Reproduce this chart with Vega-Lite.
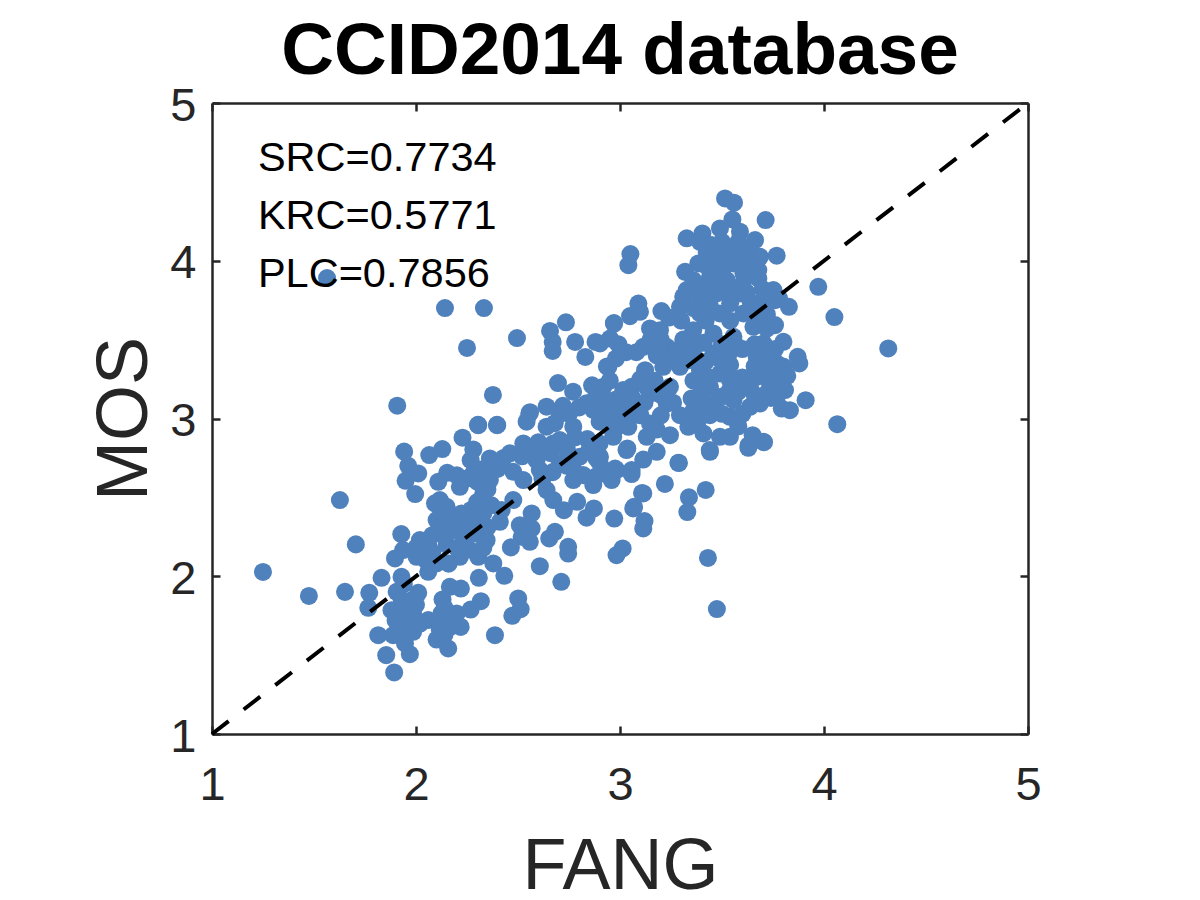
{
  "$schema": "https://vega.github.io/schema/vega-lite/v6.json",
  "width": 816,
  "height": 631,
  "autosize": {"type": "none"},
  "padding": {"left": 212, "top": 103, "right": 172, "bottom": 166},
  "background": "#ffffff",
  "title": {
    "text": "CCID2014 database",
    "font": "Liberation Sans",
    "fontSize": 73,
    "fontWeight": "bold",
    "color": "#000000",
    "anchor": "middle",
    "offset": -7
  },
  "config": {"view": {"stroke": null}},
  "datasets": {
    "scores": [
      {"fang":1.908,"mos":3.081},{"fang":2.305,"mos":2.958},{"fang":2.398,"mos":2.958},{"fang":2.228,"mos":2.878},{"fang":2.555,"mos":3.03},{"fang":2.542,"mos":2.98},
      {"fang":1.942,"mos":2.79},{"fang":2.065,"mos":2.768},{"fang":2.129,"mos":2.806},{"fang":2.281,"mos":2.804},{"fang":2.268,"mos":2.736},{"fang":1.962,"mos":2.7},
      {"fang":2.011,"mos":2.652},{"fang":1.949,"mos":2.605},{"fang":1.996,"mos":2.521},{"fang":2.153,"mos":2.656},{"fang":2.109,"mos":2.599},{"fang":2.215,"mos":2.567},
      {"fang":2.281,"mos":2.652},{"fang":2.362,"mos":2.747},{"fang":2.46,"mos":2.779},{"fang":2.526,"mos":2.842},{"fang":2.591,"mos":2.8},{"fang":2.477,"mos":2.662},
      {"fang":2.362,"mos":2.61},{"fang":2.33,"mos":2.525},{"fang":2.477,"mos":2.483},{"fang":2.567,"mos":2.398},{"fang":2.411,"mos":2.345},{"fang":2.509,"mos":2.324},
      {"fang":2.567,"mos":2.303},{"fang":2.518,"mos":2.25},{"fang":2.558,"mos":2.218},{"fang":2.465,"mos":2.183},{"fang":2.681,"mos":2.282},{"fang":2.653,"mos":2.24},
      {"fang":2.746,"mos":2.187},{"fang":2.746,"mos":2.144},{"fang":2.607,"mos":2.064},{"fang":2.712,"mos":1.965},{"fang":2.872,"mos":2.43},{"fang":2.836,"mos":2.371},
      {"fang":2.972,"mos":2.366},{"fang":3.013,"mos":2.176},{"fang":2.983,"mos":2.134},{"fang":3.065,"mos":2.43},{"fang":3.114,"mos":2.303},{"fang":3.114,"mos":2.525},
      {"fang":2.725,"mos":2.419},{"fang":2.673,"mos":2.483},{"fang":2.79,"mos":2.472},{"fang":2.64,"mos":2.546},{"fang":2.771,"mos":2.61},{"fang":2.869,"mos":2.578},
      {"fang":2.959,"mos":2.61},{"fang":3.057,"mos":2.648},{"fang":2.983,"mos":2.673},{"fang":2.885,"mos":2.747},{"fang":2.82,"mos":2.641},{"fang":3.032,"mos":2.8},
      {"fang":2.803,"mos":2.758},{"fang":2.705,"mos":2.715},{"fang":2.607,"mos":2.673},{"fang":2.526,"mos":2.61},{"fang":2.673,"mos":2.842},{"fang":2.64,"mos":2.948},
      {"fang":2.705,"mos":3.03},{"fang":2.771,"mos":2.948},{"fang":2.869,"mos":3.054},{"fang":2.967,"mos":2.906},{"fang":3.065,"mos":3.032},{"fang":2.64,"mos":3.075},
      {"fang":2.836,"mos":3.096},{"fang":2.934,"mos":3.011},{"fang":2.705,"mos":2.863},{"fang":2.9,"mos":2.842},{"fang":2.591,"mos":2.736},{"fang":2.117,"mos":2.483},
      {"fang":2.093,"mos":2.462},{"fang":2.101,"mos":2.356},{"fang":2.15,"mos":2.44},{"fang":2.223,"mos":2.398},{"fang":2.281,"mos":2.335},{"fang":2.183,"mos":2.293},
      {"fang":2.346,"mos":2.229},{"fang":2.248,"mos":2.25},{"fang":2.117,"mos":2.271},{"fang":2.019,"mos":2.229},{"fang":1.928,"mos":2.267},{"fang":1.937,"mos":2.166},
      {"fang":1.897,"mos":2.113},{"fang":2.003,"mos":2.123},{"fang":2.06,"mos":2.028},{"fang":2.101,"mos":2.081},{"fang":2.215,"mos":2.123},{"fang":2.305,"mos":2.123},
      {"fang":2.379,"mos":2.081},{"fang":2.308,"mos":1.99},{"fang":2.433,"mos":2.003},{"fang":1.831,"mos":1.99},{"fang":1.929,"mos":1.996},{"fang":1.652,"mos":1.901},
      {"fang":1.705,"mos":2.202},{"fang":1.627,"mos":2.483},{"fang":1.771,"mos":1.895},{"fang":1.766,"mos":1.8},{"fang":1.905,"mos":1.901},{"fang":2.011,"mos":1.895},
      {"fang":2.166,"mos":1.933},{"fang":2.22,"mos":1.922},{"fang":2.13,"mos":1.853},{"fang":2.318,"mos":1.842},{"fang":2.268,"mos":1.789},{"fang":2.501,"mos":1.859},
      {"fang":2.513,"mos":1.791},{"fang":2.472,"mos":1.749},{"fang":2.387,"mos":1.626},{"fang":1.88,"mos":1.785},{"fang":1.954,"mos":1.827},{"fang":1.986,"mos":1.764},
      {"fang":1.921,"mos":1.722},{"fang":1.815,"mos":1.626},{"fang":1.888,"mos":1.626},{"fang":1.986,"mos":1.648},{"fang":1.946,"mos":1.574},{"fang":1.97,"mos":1.506},
      {"fang":1.854,"mos":1.5},{"fang":1.893,"mos":1.39},{"fang":2.06,"mos":1.722},{"fang":2.15,"mos":1.722},{"fang":2.199,"mos":1.764},{"fang":2.219,"mos":1.679},
      {"fang":2.117,"mos":1.658},{"fang":2.101,"mos":1.599},{"fang":2.158,"mos":1.542},{"fang":2.125,"mos":1.764},
      {"fang":3.515,"mos":4.395},{"fang":3.559,"mos":4.368},{"fang":3.551,"mos":4.262},{"fang":3.714,"mos":4.258},{"fang":3.49,"mos":4.205},{"fang":3.588,"mos":4.184},
      {"fang":3.404,"mos":4.173},{"fang":3.327,"mos":4.142},{"fang":3.662,"mos":4.131},{"fang":3.392,"mos":4.12},{"fang":3.768,"mos":4.032},{"fang":3.051,"mos":4.042},
      {"fang":3.041,"mos":3.972},{"fang":3.425,"mos":4.057},{"fang":3.523,"mos":4.068},{"fang":3.637,"mos":4.057},{"fang":3.384,"mos":3.983},{"fang":3.319,"mos":3.93},
      {"fang":3.474,"mos":3.962},{"fang":3.556,"mos":3.983},{"fang":3.678,"mos":3.941},{"fang":3.686,"mos":4.025},{"fang":3.605,"mos":3.92},{"fang":3.441,"mos":3.898},
      {"fang":3.359,"mos":3.877},{"fang":3.678,"mos":3.888},{"fang":3.523,"mos":3.877},{"fang":3.972,"mos":3.835},{"fang":4.051,"mos":3.643},{"fang":4.315,"mos":3.444},
      {"fang":3.871,"mos":3.391},{"fang":3.879,"mos":3.349},{"fang":3.91,"mos":3.116},{"fang":4.065,"mos":2.964},{"fang":3.828,"mos":3.708},{"fang":3.76,"mos":3.592},
      {"fang":3.801,"mos":3.486},{"fang":3.768,"mos":3.349},{"fang":3.784,"mos":3.254},{"fang":3.809,"mos":3.18},{"fang":3.768,"mos":3.137},{"fang":3.833,"mos":3.053},
      {"fang":3.793,"mos":3.063},{"fang":3.752,"mos":3.814},{"fang":3.686,"mos":3.729},{"fang":3.31,"mos":3.772},{"fang":3.327,"mos":3.814},{"fang":3.294,"mos":3.708},
      {"fang":3.392,"mos":3.772},{"fang":3.474,"mos":3.793},{"fang":3.588,"mos":3.793},{"fang":3.392,"mos":3.666},{"fang":3.49,"mos":3.666},{"fang":3.605,"mos":3.666},
      {"fang":3.359,"mos":3.56},{"fang":3.458,"mos":3.539},{"fang":3.556,"mos":3.518},{"fang":3.654,"mos":3.581},{"fang":3.703,"mos":3.476},{"fang":3.359,"mos":3.433},
      {"fang":3.458,"mos":3.412},{"fang":3.539,"mos":3.423},{"fang":3.67,"mos":3.391},{"fang":3.719,"mos":3.328},{"fang":3.392,"mos":3.306},{"fang":3.49,"mos":3.285},
      {"fang":3.588,"mos":3.25},{"fang":3.67,"mos":3.264},{"fang":3.441,"mos":3.201},{"fang":3.539,"mos":3.18},{"fang":3.637,"mos":3.201},{"fang":3.735,"mos":3.222},
      {"fang":3.351,"mos":3.127},{"fang":3.458,"mos":3.095},{"fang":3.556,"mos":3.116},{"fang":3.637,"mos":3.074},{"fang":3.686,"mos":3.095},{"fang":3.441,"mos":3.021},
      {"fang":3.539,"mos":3.011},{"fang":3.572,"mos":2.989},{"fang":3.335,"mos":2.947},{"fang":3.409,"mos":2.905},{"fang":3.49,"mos":2.884},{"fang":3.539,"mos":2.884},
      {"fang":3.65,"mos":2.894},{"fang":3.703,"mos":2.852},{"fang":3.629,"mos":2.814},{"fang":3.441,"mos":2.789},{"fang":3.286,"mos":2.719},{"fang":3.203,"mos":3.681},
      {"fang":3.09,"mos":3.729},{"fang":3.098,"mos":3.676},{"fang":3.049,"mos":3.649},{"fang":2.971,"mos":3.602},{"fang":2.951,"mos":3.507},{"fang":2.992,"mos":3.471},
      {"fang":2.902,"mos":3.476},{"fang":3.147,"mos":3.571},{"fang":3.196,"mos":3.56},{"fang":3.114,"mos":3.454},{"fang":3.229,"mos":3.454},{"fang":3.278,"mos":3.433},
      {"fang":2.943,"mos":3.328},{"fang":3.123,"mos":3.306},{"fang":3.212,"mos":3.328},{"fang":3.294,"mos":3.328},{"fang":3.057,"mos":3.201},
      {"fang":3.016,"mos":3.18},{"fang":2.918,"mos":3.201},{"fang":3.245,"mos":3.201},{"fang":3.147,"mos":3.158},{"fang":3.229,"mos":3.095},{"fang":3.294,"mos":3.021},
      {"fang":2.951,"mos":3.053},{"fang":3.041,"mos":2.947},{"fang":3.147,"mos":2.968},{"fang":3.245,"mos":2.894},{"fang":3.18,"mos":2.789},{"fang":3.114,"mos":2.74},
      {"fang":3.036,"mos":2.81},{"fang":3.131,"mos":2.884},{"fang":2.967,"mos":2.884},{"fang":2.902,"mos":2.757},{"fang":2.976,"mos":2.683},{"fang":3.057,"mos":2.673},
      {"fang":1.25,"mos":2.027},{"fang":1.475,"mos":1.875},{"fang":1.564,"mos":3.89},{"fang":2.142,"mos":3.7},{"fang":2.333,"mos":3.7},{"fang":2.25,"mos":3.447},
      {"fang":2.495,"mos":3.51},{"fang":2.377,"mos":3.149},{"fang":2.657,"mos":3.555},{"fang":2.67,"mos":3.485},{"fang":2.67,"mos":3.428},{"fang":2.735,"mos":3.61},
      {"fang":2.78,"mos":3.485},{"fang":2.83,"mos":3.39},{"fang":2.88,"mos":3.485},{"fang":2.97,"mos":3.605},{"fang":2.936,"mos":3.33},{"fang":2.696,"mos":3.225},
      {"fang":2.863,"mos":3.21},{"fang":2.91,"mos":3.18},{"fang":2.77,"mos":3.17},{"fang":2.304,"mos":2.96},{"fang":2.397,"mos":2.96},{"fang":2.559,"mos":3.04},
      {"fang":3.431,"mos":2.116},{"fang":3.475,"mos":1.792},{"fang":3.42,"mos":2.547},{"fang":3.338,"mos":2.5},{"fang":3.33,"mos":2.407},{"fang":3.289,"mos":2.718},
      {"fang":3.22,"mos":2.585},{"fang":3.12,"mos":2.35},{"fang":3.069,"mos":2.44},{"fang":3.108,"mos":2.528},{"fang":3.63,"mos":2.83},{"fang":3.706,"mos":2.85},
      {"fang":3.44,"mos":2.8},
      {"fang":3.36,"mos":3.7},{"fang":3.44,"mos":3.72},{"fang":3.54,"mos":3.73},{"fang":3.64,"mos":3.74},{"fang":3.72,"mos":3.66},{"fang":3.72,"mos":3.57},
      {"fang":3.42,"mos":3.62},{"fang":3.54,"mos":3.62},{"fang":3.3,"mos":3.62},{"fang":3.24,"mos":3.64},{"fang":3.66,"mos":3.47},{"fang":3.6,"mos":3.44},
      {"fang":3.41,"mos":3.48},{"fang":3.5,"mos":3.47},{"fang":3.57,"mos":3.46},{"fang":3.34,"mos":3.5},{"fang":3.31,"mos":3.5},{"fang":3.42,"mos":3.36},
      {"fang":3.34,"mos":3.37},{"fang":3.5,"mos":3.36},{"fang":3.54,"mos":3.34},{"fang":3.72,"mos":3.4},{"fang":3.66,"mos":3.33},{"fang":3.6,"mos":3.26},
      {"fang":3.54,"mos":3.24},{"fang":3.44,"mos":3.26},{"fang":3.36,"mos":3.24},{"fang":3.72,"mos":3.16},{"fang":3.66,"mos":3.15},{"fang":3.58,"mos":3.17},
      {"fang":3.4,"mos":3.17},{"fang":3.5,"mos":3.14},{"fang":3.36,"mos":3.05},{"fang":3.42,"mos":3.08},{"fang":3.5,"mos":3.03},{"fang":3.6,"mos":3.03},
      {"fang":3.58,"mos":2.95},{"fang":3.38,"mos":2.98},{"fang":3.46,"mos":3.85},{"fang":3.6,"mos":3.85},{"fang":3.7,"mos":3.82},{"fang":3.76,"mos":3.75},
      {"fang":3.5,"mos":3.93},{"fang":3.62,"mos":3.97},{"fang":3.42,"mos":3.97},{"fang":3.58,"mos":4.05},{"fang":3.48,"mos":4.02},{"fang":3.58,"mos":4.12},
      {"fang":3.5,"mos":4.12},{"fang":3.45,"mos":4.1},{"fang":3.62,"mos":3.8},{"fang":3.54,"mos":3.8},{"fang":3.4,"mos":3.82},{"fang":3.68,"mos":3.65},
      {"fang":3.78,"mos":3.76},{"fang":3.76,"mos":3.44},{"fang":3.72,"mos":3.3},{"fang":3.8,"mos":3.33},{"fang":3.74,"mos":3.13},{"fang":3.78,"mos":3.2},
      {"fang":3.82,"mos":3.27},{"fang":3.2,"mos":3.5},{"fang":3.15,"mos":3.5},{"fang":3.08,"mos":3.42},{"fang":3.03,"mos":3.42},{"fang":3.18,"mos":3.4},
      {"fang":3.25,"mos":3.38},{"fang":2.98,"mos":3.38},{"fang":3.1,"mos":3.25},{"fang":3.17,"mos":3.24},{"fang":3.06,"mos":3.13},{"fang":2.98,"mos":3.12},
      {"fang":2.95,"mos":3.24},{"fang":3.12,"mos":3.1},{"fang":3.2,"mos":3.02},{"fang":3.1,"mos":3.02},{"fang":3.02,"mos":3.03},{"fang":2.98,"mos":2.97},
      {"fang":3.18,"mos":2.93},{"fang":3.2,"mos":3.15},{"fang":3.26,"mos":3.1},{"fang":3.13,"mos":3.2},{"fang":2.93,"mos":3.12},{"fang":2.88,"mos":3.13},
      {"fang":2.68,"mos":2.97},{"fang":2.72,"mos":3.08},{"fang":2.75,"mos":3.03},{"fang":2.8,"mos":3.07},{"fang":2.9,"mos":2.98},{"fang":2.98,"mos":2.98},
      {"fang":3.0,"mos":3.07},{"fang":2.78,"mos":2.88},{"fang":2.84,"mos":2.87},{"fang":2.74,"mos":2.8},{"fang":2.66,"mos":2.78},{"fang":2.62,"mos":2.8},
      {"fang":2.85,"mos":2.8},{"fang":2.9,"mos":2.72},{"fang":2.74,"mos":2.7},{"fang":2.67,"mos":2.66},{"fang":2.62,"mos":2.62},{"fang":2.88,"mos":2.63},
      {"fang":2.93,"mos":2.65},{"fang":2.77,"mos":2.68},{"fang":2.58,"mos":2.76},{"fang":2.52,"mos":2.76},{"fang":2.43,"mos":2.75},{"fang":2.4,"mos":2.68},
      {"fang":2.33,"mos":2.68},{"fang":2.25,"mos":2.62},{"fang":2.3,"mos":2.6},{"fang":2.2,"mos":2.64},{"fang":2.35,"mos":2.55},{"fang":2.3,"mos":2.47},
      {"fang":2.37,"mos":2.45},{"fang":2.42,"mos":2.42},{"fang":2.33,"mos":2.4},{"fang":2.27,"mos":2.42},{"fang":2.16,"mos":2.37},{"fang":2.2,"mos":2.35},
      {"fang":2.12,"mos":2.38},{"fang":2.13,"mos":2.32},{"fang":2.22,"mos":2.28},{"fang":2.3,"mos":2.27},{"fang":2.35,"mos":2.31},{"fang":2.08,"mos":2.26},
      {"fang":2.06,"mos":2.2},{"fang":2.08,"mos":2.15},{"fang":2.15,"mos":2.2},{"fang":2.2,"mos":2.18},{"fang":2.26,"mos":2.17},{"fang":2.33,"mos":2.18},
      {"fang":2.16,"mos":2.08},{"fang":2.05,"mos":2.1},{"fang":2.0,"mos":2.18},{"fang":1.92,"mos":1.8},{"fang":1.96,"mos":1.77},{"fang":1.93,"mos":1.85},
      {"fang":1.98,"mos":1.85},{"fang":1.9,"mos":1.72},{"fang":1.96,"mos":1.7},{"fang":2.02,"mos":1.7},{"fang":1.95,"mos":1.65},{"fang":1.94,"mos":1.95},
      {"fang":2.0,"mos":1.82},{"fang":2.12,"mos":1.7},{"fang":2.17,"mos":1.68},{"fang":2.14,"mos":1.63},{"fang":2.14,"mos":1.8},{"fang":2.6,"mos":2.85}
    ]
  },
  "data": {"name": "scores"},
  "resolve": {"axis": {"x": "independent", "y": "independent"}},
  "layer": [
    {
      "mark": {"type": "circle", "size": 325, "color": "#4f81bd", "opacity": 1},
      "encoding": {
        "x": {
          "field": "fang",
          "type": "quantitative",
          "scale": {"domain": [1, 5], "nice": false},
          "axis": {
            "title": "FANG",
            "values": [1, 2, 3, 4, 5],
            "grid": false,
            "format": "d",
            "orient": "bottom",
            "domainColor": "#262626",
            "domainWidth": 2.5,
            "tickColor": "#262626",
            "tickWidth": 2.5,
            "tickSize": -8,
            "labelFont": "Liberation Sans",
            "labelFontSize": 47,
            "labelColor": "#262626",
            "labelPadding": 36,
            "labelFlush": false,
            "titleFont": "Liberation Sans",
            "titleFontSize": 72,
            "titleFontWeight": "normal",
            "titleColor": "#262626",
            "titlePadding": 23
          }
        },
        "y": {
          "field": "mos",
          "type": "quantitative",
          "scale": {"domain": [1, 5], "nice": false},
          "axis": {
            "title": "MOS",
            "values": [1, 2, 3, 4, 5],
            "grid": false,
            "format": "d",
            "orient": "left",
            "domainColor": "#262626",
            "domainWidth": 2.5,
            "tickColor": "#262626",
            "tickWidth": 2.5,
            "tickSize": -8,
            "labelFont": "Liberation Sans",
            "labelFontSize": 47,
            "labelColor": "#262626",
            "labelPadding": 24,
            "labelOffset": 3,
            "labelFlush": false,
            "titleFont": "Liberation Sans",
            "titleFontSize": 72,
            "titleFontWeight": "normal",
            "titleColor": "#262626",
            "titlePadding": 8
          }
        }
      }
    },
    {
      "data": {"values": [{"fang": 1, "mos": 1}, {"fang": 5, "mos": 5}]},
      "mark": {"type": "line", "color": "#000000", "strokeWidth": 4, "strokeDash": [21, 19]},
      "encoding": {
        "x": {
          "field": "fang",
          "type": "quantitative",
          "axis": {
            "orient": "top",
            "title": null,
            "values": [1, 2, 3, 4, 5],
            "grid": false,
            "labels": false,
            "domainColor": "#262626",
            "domainWidth": 2.5,
            "tickColor": "#262626",
            "tickWidth": 2.5,
            "tickSize": -8
          }
        },
        "y": {
          "field": "mos",
          "type": "quantitative",
          "axis": {
            "orient": "right",
            "title": null,
            "values": [1, 2, 3, 4, 5],
            "grid": false,
            "labels": false,
            "domainColor": "#262626",
            "domainWidth": 2.5,
            "tickColor": "#262626",
            "tickWidth": 2.5,
            "tickSize": -8
          }
        }
      }
    },
    {
      "data": {
        "values": [
          {"fang": 1.225, "mos": 4.57, "label": "SRC=0.7734"},
          {"fang": 1.225, "mos": 4.2, "label": "KRC=0.5771"},
          {"fang": 1.225, "mos": 3.835, "label": "PLC=0.7856"}
        ]
      },
      "mark": {"type": "text", "align": "left", "baseline": "alphabetic", "font": "Liberation Sans", "fontSize": 41.5, "color": "#000000"},
      "encoding": {
        "x": {"field": "fang", "type": "quantitative", "axis": null},
        "y": {"field": "mos", "type": "quantitative", "axis": null},
        "text": {"field": "label"}
      }
    }
  ]
}
